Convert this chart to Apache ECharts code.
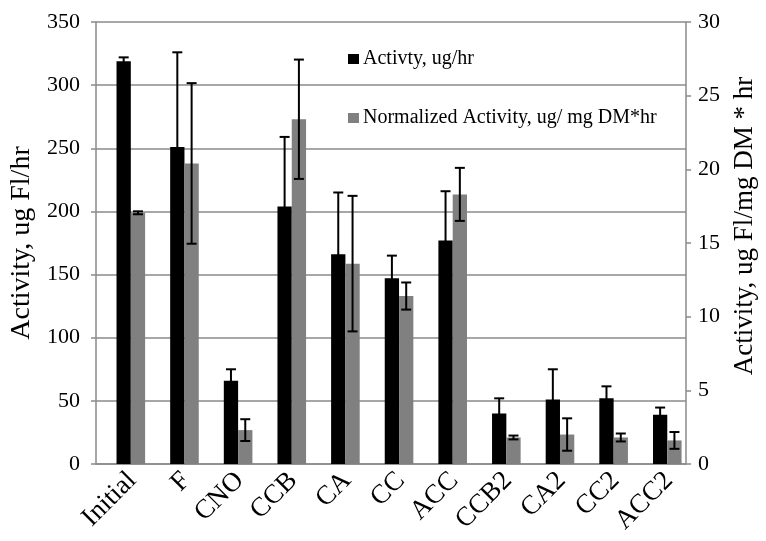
<!DOCTYPE html>
<html>
<head>
<meta charset="utf-8">
<script src="https://cdn.jsdelivr.net/npm/echarts@6/dist/echarts.min.js"></script>
<style>
  html, body { margin: 0; padding: 0; background: #fff; }
  #chart { width: 766px; height: 541px; }
</style>
</head>
<body>
<div id="chart"></div>
<script>
// Treatments along the x axis
const categories = ['Initial', 'F', 'CNO', 'CCB', 'CA', 'CC', 'ACC', 'CCB2', 'CA2', 'CC2', 'ACC2'];

// Activity, ug Fl/hr (left axis) and its error
const activity    = [319, 251, 66, 204, 166, 147, 177, 40, 51, 52, 39];
const activityErr = [3, 75, 9, 55, 49, 18, 39, 12, 24, 9.5, 5.7];

// Normalized activity, ug Fl/mg DM * hr (right axis) and its error
const normalized    = [17.05, 20.4, 2.3, 23.4, 13.6, 11.4, 18.3, 1.8, 2.0, 1.8, 1.6];
const normalizedErr = [0.1, 5.45, 0.74, 4.05, 4.6, 0.92, 1.8, 0.13, 1.1, 0.27, 0.57];

// Axis ticks
const leftTicks  = { min: 0, max: 350, interval: 50 };
const rightTicks = { min: 0, max: 30, interval: 5 };

const FONT = "'Liberation Serif', 'Times New Roman', serif";
const GRID_GRAY = '#8a8a8a';

// Bar widths: an empty spacer column sits left of each pair so the pair leans right
const SPACER_W = 16, BAR_W = 14.3;
const groupW = SPACER_W + 2 * BAR_W;
const blackOffset = -groupW / 2 + SPACER_W + BAR_W / 2;
const grayOffset = blackOffset + BAR_W;

function errorRenderer(offset) {
  return function (params, api) {
    const cat = api.value(0), v = api.value(1), e = api.value(2);
    const top = api.coord([cat, v + e]);
    const bot = api.coord([cat, v - e]);
    const x = top[0] + offset;
    const half = 5;
    const style = { stroke: '#000', lineWidth: 2 };
    return {
      type: 'group',
      children: [
        { type: 'line', shape: { x1: x, y1: top[1], x2: x, y2: bot[1] }, style },
        { type: 'line', shape: { x1: x - half, y1: top[1], x2: x + half, y2: top[1] }, style },
        { type: 'line', shape: { x1: x - half, y1: bot[1], x2: x + half, y2: bot[1] }, style }
      ]
    };
  };
}

const chart = echarts.init(document.getElementById('chart'));
chart.setOption({
  animation: false,
  backgroundColor: '#fff',
  textStyle: { fontFamily: FONT, color: '#000' },
  grid: { left: 93, right: 73, top: 22, bottom: 77, containLabel: false },
  legend: {
    data: ['Activty, ug/hr', 'Normalized Activity, ug/ mg DM*hr'],
    orient: 'vertical',
    left: 343,
    top: 44,
    itemWidth: 11,
    itemHeight: 10,
    itemGap: 39,
    icon: 'rect',
    textStyle: { fontFamily: FONT, fontSize: 20, color: '#000', lineHeight: 20, padding: [0, 0, 0, -1] }
  },
  xAxis: {
    type: 'category',
    data: categories,
    axisTick: { show: false },
    axisLine: { lineStyle: { color: GRID_GRAY, width: 1.5 } },
    axisLabel: {
      rotate: 45, interval: 0, fontSize: 27, margin: 3,
      verticalAlign: 'top', color: '#000', fontFamily: FONT
    }
  },
  yAxis: [
    {
      type: 'value',
      position: 'left',
      min: leftTicks.min, max: leftTicks.max, interval: leftTicks.interval,
      name: 'Activity, ug Fl/hr',
      nameLocation: 'middle',
      nameGap: 60,
      nameTextStyle: { fontFamily: FONT, fontSize: 28, color: '#000' },
      axisLine: { show: true, lineStyle: { color: GRID_GRAY, width: 1.5 } },
      axisTick: { show: true, inside: false, length: 5, lineStyle: { color: GRID_GRAY, width: 1.5 } },
      axisLabel: { fontSize: 22, margin: 16, color: '#000', fontFamily: FONT },
      splitLine: { show: true, lineStyle: { color: GRID_GRAY, width: 1.5 } }
    },
    {
      type: 'value',
      position: 'right',
      min: rightTicks.min, max: rightTicks.max, interval: rightTicks.interval,
      name: 'Activity, ug Fl/mg DM * hr',
      nameLocation: 'middle',
      nameGap: 37,
      nameTextStyle: { fontFamily: FONT, fontSize: 27, color: '#000', padding: [0, 0, 0, 34] },
      axisLine: { show: true, lineStyle: { color: GRID_GRAY, width: 1.5 } },
      axisTick: { show: true, inside: false, length: 5, lineStyle: { color: GRID_GRAY, width: 1.5 } },
      axisLabel: { fontSize: 22, margin: 12, color: '#000', fontFamily: FONT },
      splitLine: { show: false }
    }
  ],
  series: [
    {
      name: 'spacer',
      type: 'bar',
      yAxisIndex: 0,
      barWidth: SPACER_W,
      barGap: '0%',
      data: []
    },
    {
      name: 'Activty, ug/hr',
      type: 'bar',
      yAxisIndex: 0,
      barWidth: BAR_W,
      barGap: '0%',
      itemStyle: { color: '#000' },
      data: activity
    },
    {
      name: 'Normalized Activity, ug/ mg DM*hr',
      type: 'bar',
      yAxisIndex: 1,
      barWidth: BAR_W,
      barGap: '0%',
      itemStyle: { color: '#808080' },
      data: normalized
    },
    {
      name: 'activity error',
      type: 'custom',
      yAxisIndex: 0,
      z: 10,
      renderItem: errorRenderer(blackOffset),
      encode: { x: 0, y: 1 },
      data: activity.map((v, i) => [i, v, activityErr[i]])
    },
    {
      name: 'normalized error',
      type: 'custom',
      yAxisIndex: 1,
      z: 10,
      renderItem: errorRenderer(grayOffset),
      encode: { x: 0, y: 1 },
      data: normalized.map((v, i) => [i, v, normalizedErr[i]])
    }
  ]
});
</script>
</body>
</html>
